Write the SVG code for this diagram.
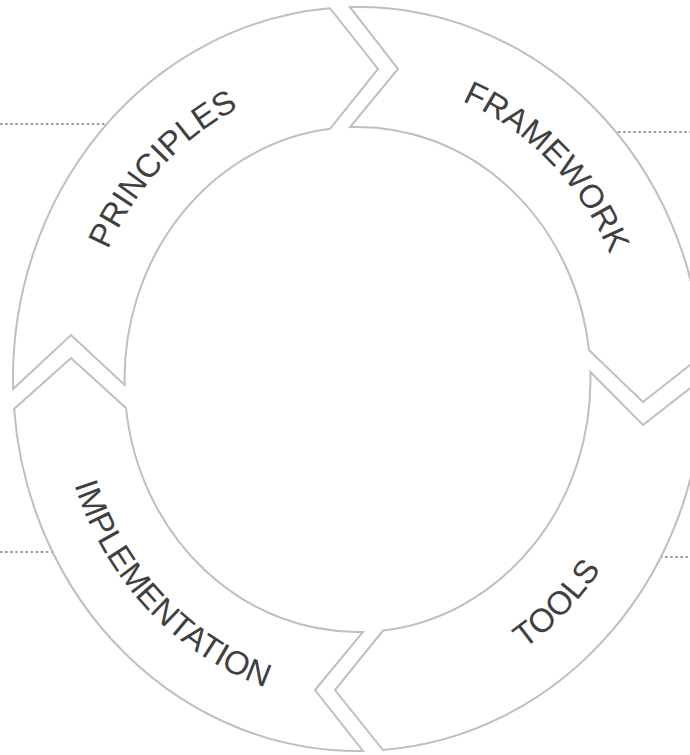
<svg xmlns="http://www.w3.org/2000/svg" width="690" height="755" viewBox="0 0 690 755">
  <style>
    .seg { fill: #ffffff; stroke: #bfbfbf; stroke-width: 2; stroke-linejoin: miter; }
    .lbl { font-family: "Liberation Sans", Arial, sans-serif; font-size: 33px; fill: #404040; }
    .dot { stroke: #9a9a9a; stroke-width: 2; stroke-dasharray: 2.5 2.6; fill: none; }
    .guide { fill: none; stroke: none; }
  </style>
  <defs>
    <path id="p-principles" class="guide" d="M 82.8,345 A 277 300 0 0 1 341.1,79.6"/>
    <path id="p-framework" class="guide" d="M 373,79.4 A 277 300 0 0 1 633,343"/>
    <path id="p-tools" class="guide" d="M 373.7,702.6 A 300 324 0 0 0 655.8,418.5"/>
    <path id="p-implementation" class="guide" d="M 59.6,412.9 A 300 324 0 0 0 337.1,702.2"/>
  </defs>
  <rect width="690" height="755" fill="#ffffff"/>

  <g id="connectors">
    <line class="dot" x1="0" y1="124" x2="106" y2="124"/>
    <line class="dot" x1="618" y1="132" x2="690" y2="132"/>
    <line class="dot" x1="0" y1="552" x2="53" y2="552"/>
    <line class="dot" x1="660" y1="557" x2="690" y2="557"/>
  </g>

  <g id="node-principles">
    <path class="seg" d="M 13.1,389 A 345 372 0 0 1 330,8.2 L 378,69 L 330,128.8 A 233 252.5 0 0 0 124.6,385 L 71,335 Z"/>
    <text class="lbl"><textPath href="#p-principles" startOffset="49%" text-anchor="middle">PRINCIPLES</textPath></text>
  </g>

  <g id="node-framework">
    <path class="seg" d="M 350,7.1 A 345 372 0 0 1 702.3,355.3 L 643,402 L 588.9,350 A 233 252.5 0 0 0 350,127.1 L 398,69 Z"/>
    <text class="lbl"><textPath href="#p-framework" startOffset="50%" text-anchor="middle">FRAMEWORK</textPath></text>
  </g>

  <g id="node-tools">
    <path class="seg" d="M 703,378 A 345 372 0 0 1 383,750 L 335,690 L 383,630.5 A 233 252.5 0 0 0 590.4,372 L 643,425 Z"/>
    <text class="lbl"><textPath href="#p-tools" startOffset="50%" text-anchor="middle">TOOLS</textPath></text>
  </g>

  <g id="node-implementation">
    <path class="seg" d="M 363,751 A 345 372 0 0 1 14.1,409 L 71,358 L 126,408 A 233 252.5 0 0 0 363,631.9 L 315,690 Z"/>
    <text class="lbl"><textPath href="#p-implementation" startOffset="50%" text-anchor="middle">IMPLEMENTATION</textPath></text>
  </g>
</svg>
